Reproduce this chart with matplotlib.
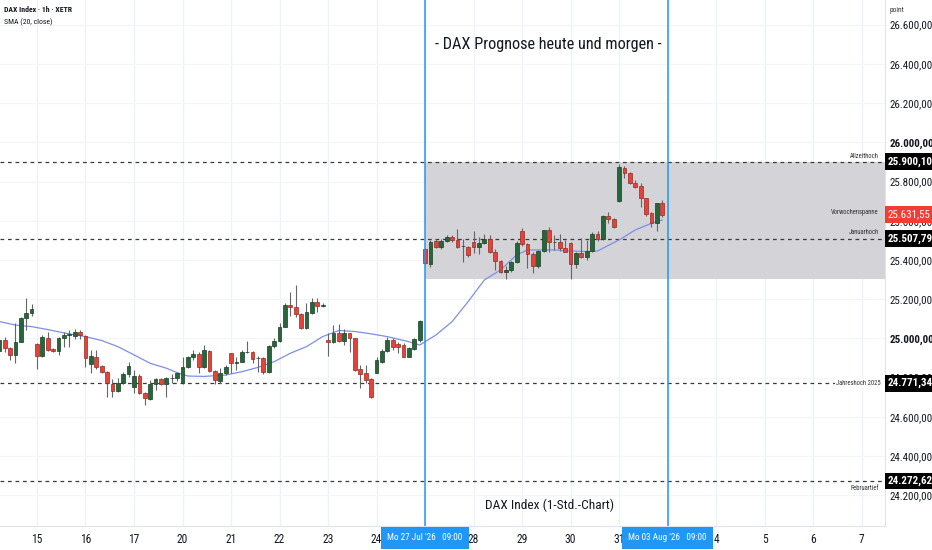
import numpy as np
import matplotlib
matplotlib.use("Agg")
import matplotlib.pyplot as plt
from matplotlib import font_manager as fm
from matplotlib.transforms import ScaledTranslation

# ---------- pick a narrow font if one is installed ----------
_entries = fm.fontManager.ttflist
_names = {f.name for f in _entries}
FAMILY, STRETCH, SC = None, 'normal', 1.0
for n in ['Liberation Sans Narrow', 'Roboto Condensed', 'Open Sans Condensed',
          'Noto Sans Condensed', 'DejaVu Sans Condensed', 'Arial Narrow']:
    if n in _names:
        FAMILY = n
        break
if FAMILY is None:
    for f in _entries:
        if f.name in ('DejaVu Sans', 'Open Sans', 'Noto Sans', 'Roboto') and \
                str(f.stretch) in ('condensed', 'semi-condensed', 'extra-condensed'):
            FAMILY, STRETCH = f.name, str(f.stretch)
            break
if FAMILY is None:
    FAMILY, SC = 'Roboto', 0.84
plt.rcParams['font.family'] = [FAMILY, 'DejaVu Sans']
plt.rcParams['font.stretch'] = STRETCH

# ---------------- data ----------------
first_bar = -7  # bar index of first visible candle (index 0 = 15 Jul 09:00)
opens = [24938, 24992, 24949, 24915, 24984, 25102, 25128,
         24970, 24912, 25000, 24944, 24938, 25000, 25018, 25014, 25031,
         25014, 24868, 24904, 24860, 24830, 24768, 24734, 24774, 24817,
         24751, 24810, 24723, 24689, 24768, 24791, 24766, 24797, 24800,
         24771, 24853, 24904, 24921, 24852, 24937, 24835, 24785, 24822,
         24924, 24873, 24881, 24929, 24932, 24899, 24902, 24830, 24961,
         24989, 25060, 25170, 25159, 25125, 25051, 25131, 25186, 25167,
         24992, 24983, 25029, 24989, 25026, 25000, 24844, 24822, 24791,
         24825, 24881, 24937, 24992, 24972, 24966, 24907, 24944, 24992,
         25456, 25378, 25497, 25468, 25497, 25517, 25502, 25470, 25466,
         25494, 25468, 25485, 25507, 25443, 25395, 25337, 25349, 25388,
         25548, 25480, 25429, 25370, 25446, 25551, 25490, 25494, 25460,
         25485, 25378, 25434, 25417, 25446, 25533, 25506, 25625, 25608,
         25703, 25871, 25842, 25795, 25778, 25715, 25638, 25587, 25689]
highs = [25000, 25009, 24955, 25077, 25110, 25205, 25176,
         24975, 25018, 25035, 24950, 25006, 25030, 25043, 25047, 25043,
         25018, 24941, 24941, 24865, 24836, 24791, 24797, 24826, 24882,
         24839, 24818, 24728, 24788, 24797, 24800, 24805, 24819, 24831,
         24904, 24910, 24941, 24932, 24966, 24941, 24839, 24847, 24864,
         24927, 24903, 24941, 24989, 24936, 24910, 24903, 24966, 25000,
         25080, 25179, 25239, 25273, 25128, 25179, 25205, 25205, 25182,
         25026, 25068, 25073, 25046, 25029, 25004, 24864, 24864, 24796,
         24904, 24944, 25009, 25000, 24983, 24975, 24954, 25000, 25094,
         25460, 25502, 25506, 25507, 25528, 25528, 25558, 25507, 25473,
         25548, 25519, 25531, 25528, 25456, 25400, 25371, 25395, 25497,
         25565, 25485, 25443, 25451, 25553, 25570, 25528, 25533, 25502,
         25490, 25443, 25511, 25502, 25541, 25548, 25630, 25647, 25613,
         25892, 25880, 25847, 25808, 25791, 25718, 25647, 25693, 25706]
lows = [24930, 24932, 24890, 24873, 24980, 25043, 25114,
        24842, 24904, 24938, 24930, 24916, 24958, 24958, 24995, 24995,
        24853, 24822, 24842, 24822, 24700, 24703, 24728, 24768, 24805,
        24720, 24715, 24660, 24686, 24737, 24763, 24700, 24771, 24783,
        24768, 24850, 24890, 24822, 24847, 24830, 24766, 24771, 24812,
        24822, 24839, 24878, 24924, 24873, 24830, 24819, 24825, 24949,
        24983, 25057, 25114, 25111, 25046, 25046, 25123, 25136, 25159,
        24910, 24978, 24983, 24966, 24932, 24836, 24745, 24771, 24698,
        24822, 24873, 24932, 24941, 24924, 24903, 24903, 24941, 24983,
        25378, 25366, 25460, 25456, 25490, 25490, 25460, 25392, 25417,
        25434, 25429, 25480, 25434, 25349, 25332, 25303, 25341, 25383,
        25473, 25361, 25336, 25358, 25443, 25443, 25451, 25448, 25439,
        25303, 25358, 25409, 25400, 25443, 25497, 25502, 25587, 25565,
        25698, 25817, 25786, 25766, 25672, 25626, 25570, 25548, 25621]
closes = [24992, 24949, 24915, 24984, 25102, 25131, 25148,
          24912, 25006, 24941, 24936, 25000, 25018, 25021, 25035, 25018,
          24898, 24910, 24856, 24830, 24771, 24734, 24774, 24817, 24860,
          24810, 24720, 24694, 24766, 24791, 24766, 24797, 24800, 24825,
          24853, 24904, 24919, 24852, 24941, 24835, 24788, 24822, 24856,
          24873, 24881, 24929, 24932, 24893, 24902, 24826, 24961, 24989,
          25057, 25170, 25162, 25123, 25051, 25136, 25186, 25167, 25169,
          24983, 25029, 24989, 25026, 25000, 24839, 24817, 24788, 24703,
          24890, 24937, 24992, 24958, 24958, 24907, 24949, 24995, 25091,
          25383, 25494, 25468, 25497, 25517, 25500, 25466, 25472, 25426,
          25468, 25488, 25507, 25443, 25395, 25337, 25349, 25388, 25489,
          25480, 25429, 25370, 25446, 25551, 25494, 25493, 25460, 25443,
          25378, 25434, 25417, 25446, 25533, 25506, 25625, 25608, 25570,
          25874, 25842, 25791, 25774, 25715, 25633, 25587, 25689, 25631.55]

sma_idx = [-7, -4, -1, 2, 5, 9, 12, 15, 18, 21, 24, 26, 28, 31, 35, 38, 41, 44,
           47, 50, 53, 56, 59, 62, 65, 69, 71, 74, 77, 80, 83, 86, 89, 91, 96,
           99, 102, 104, 108, 111, 114, 116]
sma_val = [25086, 25068, 25060, 25045, 25028, 25009, 24989, 24958, 24916, 24873,
           24848, 24825, 24808, 24806, 24813, 24830, 24852, 24881, 24924, 24958,
           25009, 25040, 25035, 25023, 25009, 24983, 24966, 25017, 25085, 25188,
           25298, 25349, 25426, 25451, 25451, 25446, 25443, 25446, 25502, 25553,
           25587, 25604]

day_labels = ['15', '16', '17', '20', '21', '22', '23', '24', '27', '28', '29',
              '30', '31', '3', '4', '5', '6', '7']
bars_per_day = 9

levels = [25900.10, 25507.79, 24771.34, 24272.62]
level_names = ['Allzeithoch', 'Januarhoch', 'Jahreshoch 2025', 'Februartief']
range_low, range_high = 25303, 25900.10
range_start_day = '27'
marker_days = ['27', '3']
marker_texts = ["Mo 27 Jul '26   09:00", "Mo 03 Aug '26   09:00"]
last_price = closes[-1]

yticks = list(range(24200, 26601, 200))

# ---------------- figure ----------------
W, H = 932, 550
fig = plt.figure(figsize=(W / 100, H / 100), dpi=100)
fig.patch.set_facecolor('white')
ax = fig.add_axes([0, 24 / H, 885 / W, 526 / H])
ax.set_facecolor('white')

x = np.arange(first_bar, first_bar + len(opens))
day_pos = np.arange(len(day_labels)) * bars_per_day

XL, XR = -6.86, 157.33
ax.set_xlim(XL, XR)
ax.set_ylim(24043, 26726)

# grid
for p in day_pos:
    ax.axvline(p, color='#eef1f7', lw=0.9, zorder=0)
for yv in yticks:
    ax.axhline(yv, color='#f3f5f9', lw=0.8, zorder=0)

# range box
rs = day_pos[day_labels.index(range_start_day)]
ax.axhspan(range_low, range_high, xmin=(rs - XL) / (XR - XL), xmax=1,
           facecolor='#d3d3d8', edgecolor='none', zorder=1)

# level lines
for lv in levels:
    ax.axhline(lv, color='#3a3a3a', lw=0.9, ls=(0, (3, 3)), zorder=2)

# vertical blue markers
for d in marker_days:
    ax.axvline(day_pos[day_labels.index(d)], color='#2196F3', lw=1.1, zorder=6)

# SMA
ax.plot(sma_idx, sma_val, color='#7d8fe8', lw=0.9, zorder=3)

# candles
o = np.array(opens); h = np.array(highs); l = np.array(lows); c = np.array(closes)
up = c >= o
ax.vlines(x, l, h, colors='#666666', lw=0.8, zorder=4)
body_b = np.minimum(o, c)
body_h = np.maximum(np.abs(c - o), 3)
ax.bar(x[up], body_h[up], bottom=body_b[up], width=0.7,
       color='#27663a', edgecolor='#173f22', lw=0.5, zorder=5)
ax.bar(x[~up], body_h[~up], bottom=body_b[~up], width=0.7,
       color='#e5433a', edgecolor='#962a24', lw=0.5, zorder=5)


def fmt(v):
    return f"{v:,.2f}".replace(',', 'X').replace('.', ',').replace('X', '.')


# axes styling
for s in ['top', 'left']:
    ax.spines[s].set_visible(False)
ax.spines['right'].set_color('#e0e3eb')
ax.spines['bottom'].set_color('#e0e3eb')
ax.yaxis.tick_right()
ax.set_yticks(yticks)
ax.set_yticklabels([fmt(v) for v in yticks])
ax.tick_params(axis='y', length=0, pad=3, labelsize=7.9 * SC, labelcolor='#131722')
for lab, v in zip(ax.get_yticklabels(), yticks):
    if v % 1000 == 0:
        lab.set_fontweight('bold')
ax.set_xticks(day_pos)
ax.set_xticklabels(day_labels)
ax.tick_params(axis='x', length=0, pad=5, labelsize=8.3 * SC, labelcolor='#131722')

# price tags on right axis
ytr = ax.get_yaxis_transform()
off = ScaledTranslation(3 / 100, 0, fig.dpi_scale_trans)
for lv in levels:
    ax.text(1.0, lv, fmt(lv), transform=ytr + off, ha='left', va='center',
            fontsize=7.9 * SC, fontweight='bold', color='white', clip_on=False, zorder=20,
            bbox=dict(boxstyle='square,pad=0.3', fc='black', ec='none'))
ax.text(1.0, last_price, fmt(last_price), transform=ytr + off, ha='left', va='center',
        fontsize=7.9 * SC, color='white', clip_on=False, zorder=20,
        bbox=dict(boxstyle='square,pad=0.3', fc='#f23d35', ec='none'))

# level names
lk = dict(transform=ytr, ha='right', fontsize=4.8, color='#333333', zorder=8)
ax.text(0.993, levels[0] + 12, level_names[0], va='bottom', **lk)
ax.text(0.993, levels[1] + 12, level_names[1], va='bottom', **lk)
ax.text(0.995, levels[2], level_names[2], va='center',
        bbox=dict(boxstyle='square,pad=0.2', fc='white', ec='none'), **lk)
ax.text(0.993, levels[3] - 18, level_names[3], va='top', **lk)
ax.text(0.993, 25640, 'Vorwochenspanne', va='center', **lk)

# date markers on x axis
xtr = ax.get_xaxis_transform()
for d, t in zip(marker_days, marker_texts):
    ax.text(day_pos[day_labels.index(d)], -0.0225, t, transform=xtr, ha='center',
            va='center', fontsize=6.6 * SC, color='white', clip_on=False, zorder=20,
            bbox=dict(boxstyle='square,pad=0.7', fc='#2196F3', ec='none'))

# titles
tsc = SC if SC == 1 else 0.86
fig.text(548 / W, 1 - 44 / H, '- DAX Prognose heute und morgen -', ha='center',
         va='center', fontsize=11.7 * tsc, color='#131722')
fig.text(550 / W, 1 - 505 / H, 'DAX Index (1-Std.-Chart)', ha='center',
         va='center', fontsize=9.6 * tsc, color='#131722')

# legend texts
fig.text(4 / W, 1 - 9 / H, 'DAX Index · 1h · XETR', ha='left', va='center',
         fontsize=5.6, color='#131722', fontweight='bold')
fig.text(4 / W, 1 - 22 / H, 'SMA (20, close)', ha='left', va='center',
         fontsize=5.6, color='#131722')
fig.text(889 / W, 1 - 10 / H, 'point', ha='left', va='center', fontsize=5.2,
         color='#333333')

fig.savefig('out.png', dpi=100, facecolor='white')
